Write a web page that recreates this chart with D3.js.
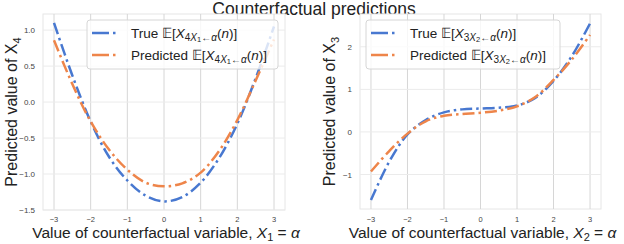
<!DOCTYPE html>
<html><head><meta charset="utf-8">
<script src="https://cdn.jsdelivr.net/npm/d3@7"></script>
<style>body{margin:0;background:#fff}text{font-family:"Liberation Sans",Arial,sans-serif}</style>
</head><body><svg id="c" width="624" height="244"></svg>
<script>
const xs = [-3, -2.5, -2, -1.5, -1, -0.5, 0, 0.5, 1, 1.5, 2, 2.5, 3];
const trueX4 = [1.10, 0.37, -0.27, -0.76, -1.09, -1.30, -1.38, -1.32, -1.12, -0.78, -0.30, 0.33, 1.05];
const predX4 = [0.86, 0.25, -0.27, -0.66, -0.94, -1.12, -1.17, -1.13, -0.98, -0.68, -0.25, 0.30, 0.87];
const trueX3 = [-1.60, -0.70, -0.06, 0.28, 0.46, 0.53, 0.55, 0.57, 0.62, 0.80, 1.20, 1.78, 2.55];
const predX3 = [-0.93, -0.45, -0.04, 0.25, 0.38, 0.42, 0.45, 0.50, 0.60, 0.82, 1.22, 1.70, 2.28];
const xTicks = [-3, -2, -1, 0, 1, 2, 3];
const yTicksL = [-1.5, -1.0, -0.5, 0.0, 0.5, 1.0];
const yTicksR = [-1, 0, 1, 2];
const blue = "#4878d0", orange = "#ee854a";

const svg = d3.select("#c");
svg.append("text").attr("x", 314).attr("y", 15).attr("text-anchor", "middle")
  .attr("font-size", 17.5).attr("fill", "#222").text("Counterfactual predictions");

function panel(o) {
  const x = d3.scaleLinear().domain([-3.3, 3.3]).range([o.x0, o.x1]);
  const y = d3.scaleLinear().domain(o.yd).range([o.y1, o.y0]);
  const g = svg.append("g");
  g.append("rect").attr("x", o.x0).attr("y", o.y0).attr("width", o.x1 - o.x0).attr("height", o.y1 - o.y0)
    .attr("fill", "#fff").attr("stroke", "#e6e6e6").attr("stroke-width", 1);
  xTicks.forEach(t => g.append("line").attr("x1", x(t)).attr("x2", x(t)).attr("y1", o.y0).attr("y2", o.y1)
    .attr("stroke", "#d6d6d6").attr("stroke-width", 1));
  o.yt.forEach(t => g.append("line").attr("x1", o.x0).attr("x2", o.x1).attr("y1", y(t)).attr("y2", y(t))
    .attr("stroke", "#ebebeb").attr("stroke-width", 1));
  xTicks.forEach(t => g.append("text").attr("x", x(t)).attr("y", 222).attr("text-anchor", "middle")
    .attr("font-size", 7.5).attr("fill", "#444").text(t < 0 ? "\u2212" + Math.abs(t) : t));
  o.yt.forEach(t => g.append("text").attr("x", o.x0 - 8).attr("y", y(t) + 3).attr("text-anchor", "end")
    .attr("font-size", 8).attr("fill", "#444").text(o.fmt(t)));
  const line = d3.line().x((d, i) => x(xs[i])).y(d => y(d)).curve(d3.curveCatmullRom);
  g.append("path").attr("d", line(o.t)).attr("fill", "none").attr("stroke", blue)
    .attr("stroke-width", 2.5).attr("stroke-dasharray", "12,4,2.5,4");
  g.append("path").attr("d", line(o.p)).attr("fill", "none").attr("stroke", orange)
    .attr("stroke-width", 2.5).attr("stroke-dasharray", "12,4,2.5,4");
  // legend
  const lg = g.append("g");
  lg.append("rect").attr("x", o.lx).attr("y", 20).attr("width", o.lw).attr("height", 49).attr("rx", 3)
    .attr("fill", "rgba(255,255,255,0.8)").attr("stroke", "#d6d6d6");
  [[blue, "True "], [orange, "Predicted "]].forEach((r, i) => {
    const cy = 33 + i * 22;
    lg.append("line").attr("x1", o.lx + 5).attr("x2", o.lx + 31).attr("y1", cy).attr("y2", cy)
      .attr("stroke", r[0]).attr("stroke-width", 2.5).attr("stroke-dasharray", "17,4,2.5,4");
    const tx = lg.append("text").attr("x", o.lx + 44).attr("y", cy + 4.5).attr("font-size", 13.5).attr("fill", "#222");
    tx.append("tspan").text(r[1] + "\u{1D53C}[");
    tx.append("tspan").attr("font-style", "italic").text("X");
    tx.append("tspan").attr("font-size", 10).attr("dy", 3).text(o.sub);
    tx.append("tspan").attr("font-size", 10).attr("font-style", "italic").text("X");
    tx.append("tspan").attr("font-size", 7.5).attr("dy", 1.5).text(o.sub2);
    tx.append("tspan").attr("font-size", 10).attr("dy", -1.5).text("\u2190");
    tx.append("tspan").attr("font-size", 10).attr("font-style", "italic").text("\u03B1");
    tx.append("tspan").attr("dy", -3).text("(");
    tx.append("tspan").attr("font-style", "italic").text("n");
    tx.append("tspan").text(")]");
  });
  // axis labels
  const yl = g.append("text").attr("transform", `translate(${o.ylx},${(o.y0 + o.y1) / 2}) rotate(-90)`)
    .attr("text-anchor", "middle").attr("font-size", 16).attr("fill", "#222");
  yl.append("tspan").text("Predicted value of X");
  yl.append("tspan").attr("font-size", 11).attr("dy", 4).text(o.sub);
  const xl = g.append("text").attr("x", (o.x0 + o.x1) / 2 + 2).attr("y", 237.5).attr("text-anchor", "middle")
    .attr("font-size", 15.5).attr("fill", "#222");
  xl.append("tspan").text("Value of counterfactual variable, ");
  xl.append("tspan").attr("font-style", "italic").text("X");
  xl.append("tspan").attr("font-size", 11).attr("baseline-shift", "-25%").text(o.sub2);
  xl.append("tspan").text(" = ");
  xl.append("tspan").attr("font-style", "italic").text("\u03B1");
}

panel({x0: 43, x1: 285, y0: 14, y1: 210, yd: [-1.5, 1.224], yt: yTicksL, fmt: d3.format(".1f"),
  t: trueX4, p: predX4, lx: 87, lw: 191, sub: "4", sub2: "1", ylx: 17});
panel({x0: 360, x1: 601, y0: 14, y1: 209, yd: [-1.81, 2.77], yt: yTicksR, fmt: d => d < 0 ? "\u2212" + Math.abs(d) : d,
  t: trueX3, p: predX3, lx: 366, lw: 194, sub: "3", sub2: "2", ylx: 335});
</script></body></html>
